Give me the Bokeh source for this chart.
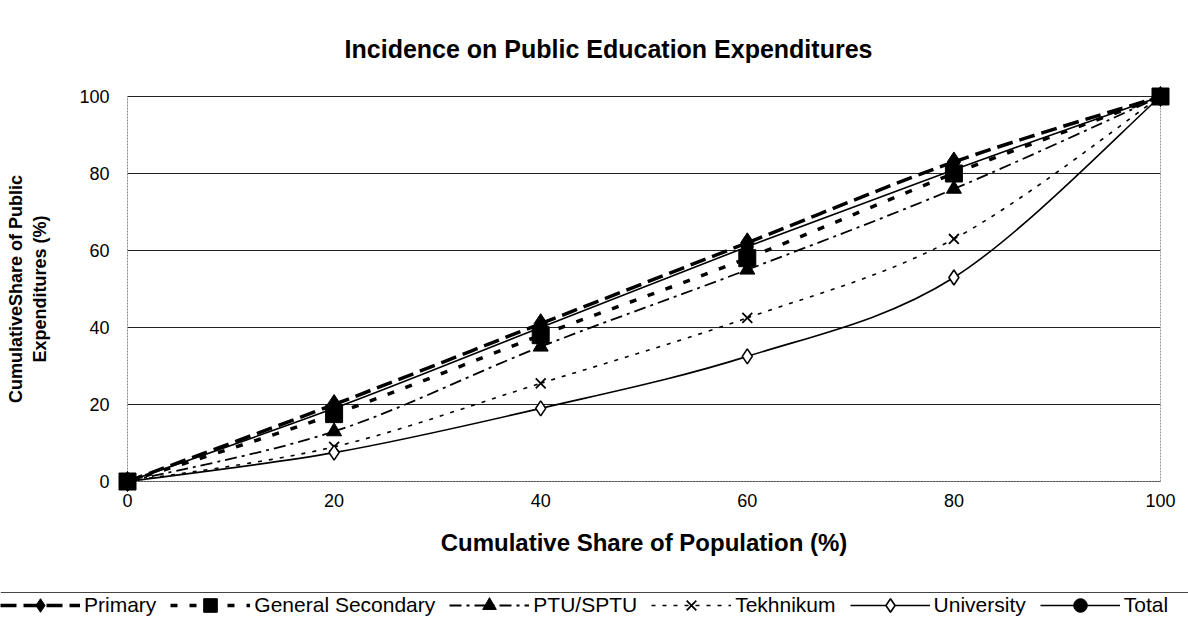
from bokeh.plotting import figure
from bokeh.models import Legend, LegendItem, FixedTicker, Label, Span
from bokeh.embed import file_html
from bokeh.resources import INLINE

# ---- data ----
population = [0, 20, 40, 60, 80, 100]
primary = [0, 20, 41, 62, 83, 100]
general_secondary = [0, 17.5, 38, 58, 80, 100]
ptu_sptu = [0, 13, 35, 55, 76, 100]
tekhnikum = [0, 9, 25.5, 42.5, 63, 100]
university = [0, 7.5, 19, 32.5, 53, 100]
total = [0, 19, 40, 61, 81, 100]
ticks = [0, 20, 40, 60, 80, 100]

FONT = "Liberation Sans"

# ---- layout (pixels) ----
W, H = 1188, 618
PLOT_L, PLOT_R, PLOT_T, PLOT_B = 127, 1160, 96, 481
SEP_Y = 592
ppx = 100 / (PLOT_R - PLOT_L)
ppy = 100 / (PLOT_B - PLOT_T)

# the frame covers the whole canvas; the 0-100 box sits inside it
p = figure(width=W, height=H, output_backend="svg", toolbar_location=None, title=None,
           x_range=(-PLOT_L * ppx, 100 + (W - PLOT_R) * ppx),
           y_range=(-(H - PLOT_B) * ppy, 100 + PLOT_T * ppy),
           min_border_left=0, min_border_right=0, min_border_top=0, min_border_bottom=0)
p.background_fill_color = "white"
p.border_fill_color = "white"
p.outline_line_color = None
p.grid.visible = False

title = Label(x=608, y=H - 48, x_units="screen", y_units="screen",
              text="Incidence on Public Education Expenditures",
              text_align="center", text_baseline="middle",
              text_font=FONT, text_font_size="25px", text_font_style="bold", text_color="black")
p.add_layout(title)

# horizontal gridlines at the tick values
p.segment(x0=[ticks[0]] * len(ticks), x1=[ticks[-1]] * len(ticks), y0=ticks, y1=ticks,
          line_color="#222222", line_width=1)
# dotted right border of the plot area
p.segment(x0=[ticks[-1]], x1=[ticks[-1]], y0=[ticks[0]], y1=[ticks[-1]],
          line_color="#999999", line_dash="2 1", line_width=1)

for ax in (p.xaxis[0], p.yaxis[0]):
    ax.fixed_location = 0
    ax.ticker = FixedTicker(ticks=ticks)
    ax.bounds = (ticks[0], ticks[-1])
    ax.major_tick_out = 0
    ax.major_tick_in = 0
    ax.minor_tick_out = 0
    ax.minor_tick_in = 0
    ax.axis_line_color = "#888888"
    ax.axis_line_dash = "2 1"
    ax.major_label_text_font = FONT
    ax.major_label_text_font_size = "18px"
    ax.major_label_text_color = "black"
    ax.axis_label_text_font = FONT
    ax.axis_label_text_font_style = "bold"
    ax.axis_label_text_color = "black"

p.yaxis.axis_label = "CumulativeShare of Public\nExpenditures (%)"
p.yaxis.axis_label_text_font_size = "18px"
p.yaxis.major_label_standoff = 18
p.yaxis.axis_label_standoff = 26

p.xaxis.axis_label = "Cumulative Share of Population (%)"
p.xaxis.axis_label_text_font_size = "24px"
p.xaxis.major_label_standoff = 12
p.xaxis.axis_label_standoff = 19

# separator rule above the legend
p.add_layout(Span(location=-(SEP_Y - PLOT_B) * ppy, dimension="width",
                  line_color="#444444", line_width=1))


def smooth(xs, ys):
    n = len(xs)
    d = dict(x0=[], y0=[], x1=[], y1=[], cx0=[], cy0=[], cx1=[], cy1=[])
    for i in range(n - 1):
        a = i - 1 if i > 0 else i
        b = i + 2 if i + 2 < n else i + 1
        d["x0"].append(xs[i]); d["y0"].append(ys[i])
        d["x1"].append(xs[i + 1]); d["y1"].append(ys[i + 1])
        d["cx0"].append(xs[i] + (xs[i + 1] - xs[a]) / 6)
        d["cy0"].append(ys[i] + (ys[i + 1] - ys[a]) / 6)
        d["cx1"].append(xs[i + 1] - (xs[b] - xs[i]) / 6)
        d["cy1"].append(ys[i + 1] - (ys[b] - ys[i]) / 6)
    return d


series = [
    ("Primary", primary, dict(line_width=3.5, line_dash="16 7"), "diamond", 20, "black", 1),
    ("General Secondary", general_secondary, dict(line_width=3.5, line_dash="7 12"), "square", 17, "black", 1),
    ("PTU/SPTU", ptu_sptu, dict(line_width=1.8, line_dash="12 5 3 5"), "triangle", 15, "black", 1),
    ("Tekhnikum", tekhnikum, dict(line_width=1.6, line_dash="4 7"), "x", 14, "black", 1.8),
    ("University", university, dict(line_width=1.6), "diamond", 15, "white", 1.6),
    ("Total", total, dict(line_width=1.6), "circle", 12, "black", 1),
]

off = [-300, -290]  # outside the visible ranges: only used as legend swatches

items = []
for name, ys, lstyle, marker, size, fill, mlw in series:
    p.bezier(line_color="black", **lstyle, **smooth(population, ys))
    sc = p.scatter(population, ys, marker=marker, size=size, fill_color=fill,
                   line_color="black", line_width=mlw, level="overlay")
    dl = p.line(off, off, line_color="black", **lstyle)
    items.append(LegendItem(label=name, renderers=[dl, sc]))

legend = Legend(items=items, orientation="horizontal", location=(0, -4),
                glyph_width=80, glyph_height=34, label_height=20, label_standoff=4, spacing=14,
                padding=0, margin=0, border_line_color=None, background_fill_alpha=0,
                label_text_font=FONT, label_text_font_size="21px", label_text_color="black")
p.add_layout(legend, "center")

open("out.html", "w").write(file_html(p, INLINE))
